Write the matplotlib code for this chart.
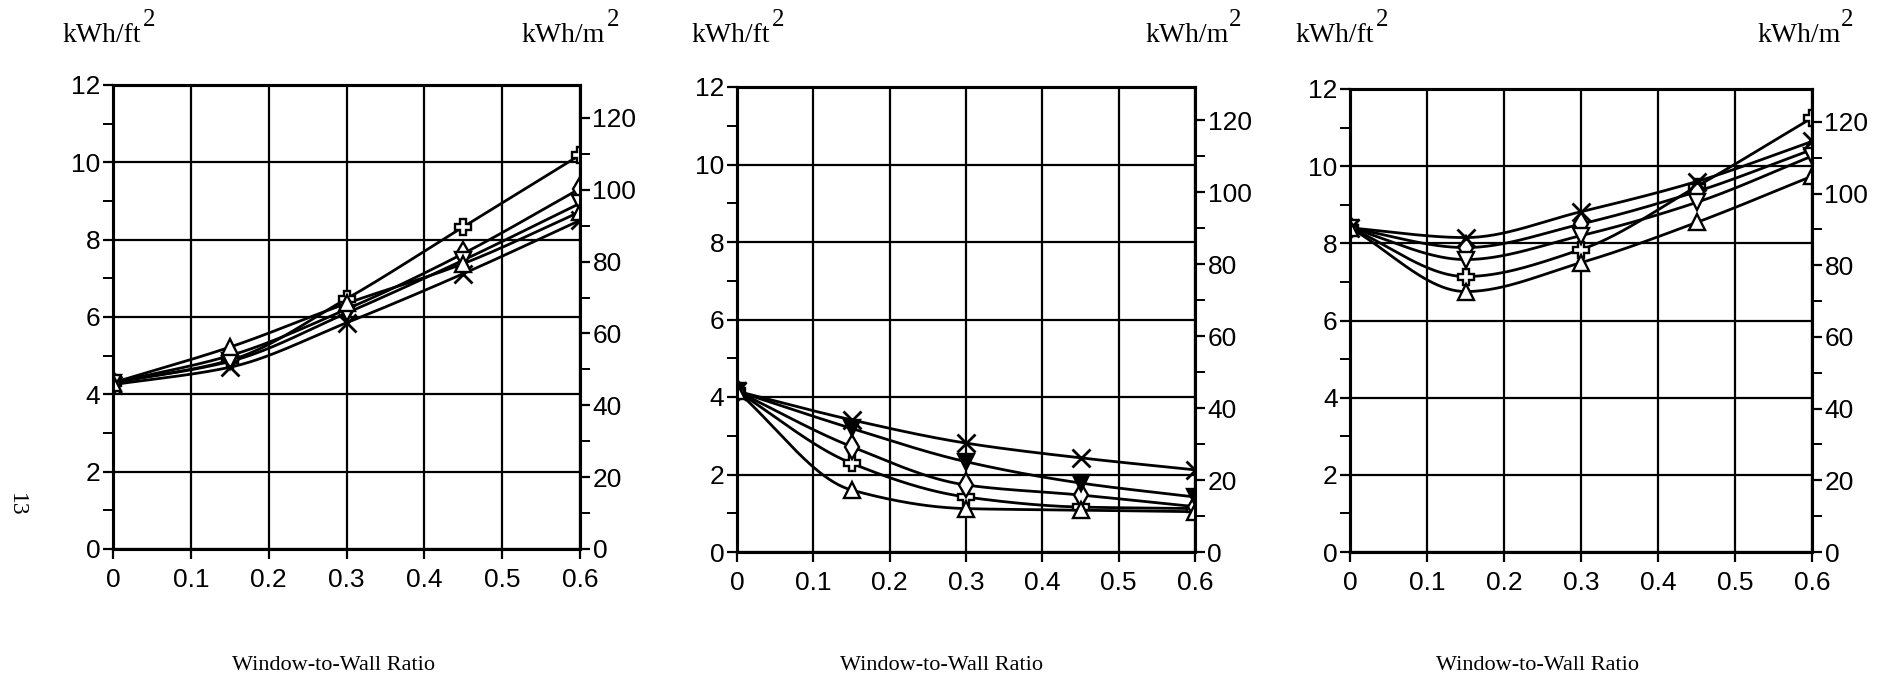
import matplotlib
matplotlib.use('Agg')
import matplotlib.pyplot as plt
import numpy as np
from matplotlib.ticker import MultipleLocator

plt.rcParams['font.family'] = ['Liberation Sans', 'DejaVu Sans']

FT2_TO_M2 = 10.764
SERIF = ['Liberation Serif', 'DejaVu Serif']

wwr = [0, 0.15, 0.3, 0.45, 0.6]
x_ticks = [0, 0.1, 0.2, 0.3, 0.4, 0.5, 0.6]
x_labels = ['0', '0.1', '0.2', '0.3', '0.4', '0.5', '0.6']
y_ticks = [0, 2, 4, 6, 8, 10, 12]
y2_ticks = [0, 20, 40, 60, 80, 100, 120]

# kWh/ft2 per window-to-wall ratio, one list per curve
left_plus = [4.3, 4.88, 6.47, 8.33, 10.19]
left_diamond = [4.3, 5.0, 6.2, 7.64, 9.32]
left_vtri = [4.3, 4.85, 6.1, 7.47, 8.94]
left_x = [4.25, 4.7, 5.85, 7.12, 8.5]
left_tri = [4.3, 5.22, 6.35, 7.38, 8.72]

mid_plus = [4.15, 2.29, 1.42, 1.16, 1.12]
mid_diamond = [4.15, 2.72, 1.73, 1.47, 1.17]
mid_vtri = [4.15, 3.19, 2.33, 1.78, 1.42]
mid_x = [4.15, 3.41, 2.81, 2.43, 2.12]
mid_tri = [4.15, 1.6, 1.12, 1.08, 1.04]

right_plus = [8.4, 7.14, 7.84, 9.47, 11.25]
right_diamond = [8.4, 7.89, 8.5, 9.34, 10.43]
right_vtri = [8.4, 7.58, 8.2, 9.06, 10.26]
right_x = [8.4, 8.15, 8.82, 9.6, 10.64]
right_tri = [8.4, 6.75, 7.5, 8.54, 9.74]

panels = [
    [left_plus, left_diamond, left_vtri, left_x, left_tri],
    [mid_plus, mid_diamond, mid_vtri, mid_x, mid_tri],
    [right_plus, right_diamond, right_vtri, right_x, right_tri],
]
vtri_face = ['white', 'black', 'white']


def pchip(x, y, xs):
    # monotone cubic hermite curve through the points
    x = np.asarray(x, float)
    y = np.asarray(y, float)
    h = np.diff(x)
    d = np.diff(y) / h
    m = np.zeros_like(y)
    for k in range(1, len(x) - 1):
        if d[k - 1] * d[k] > 0:
            w1 = 2 * h[k] + h[k - 1]
            w2 = h[k] + 2 * h[k - 1]
            m[k] = (w1 + w2) / (w1 / d[k - 1] + w2 / d[k])
    m[0] = d[0]
    m[-1] = d[-1]
    idx = np.clip(np.searchsorted(x, xs) - 1, 0, len(x) - 2)
    t = (xs - x[idx]) / h[idx]
    h00 = 2 * t**3 - 3 * t**2 + 1
    h10 = t**3 - 2 * t**2 + t
    h01 = -2 * t**3 + 3 * t**2
    h11 = t**3 - t**2
    return h00 * y[idx] + h10 * h[idx] * m[idx] + h01 * y[idx + 1] + h11 * h[idx] * m[idx + 1]


W, H = 1903, 676
fig = plt.figure(figsize=(W / 100, H / 100), dpi=100)

# axes boxes in pixels: left, right, top, bottom
boxes = [(113, 580, 85, 549), (737, 1195, 87, 552), (1350, 1812, 89, 552)]

xs = np.linspace(0, 0.6, 200)

for i, (l, r, t, b) in enumerate(boxes):
    ax = fig.add_axes([l / W, 1 - b / H, (r - l) / W, (b - t) / H])
    plus, diamond, vtri, xser, tri = panels[i]
    styles = [
        (plus, dict(marker='P', ms=12, mfc='white')),
        (diamond, dict(marker='d', ms=12, mfc='white')),
        (vtri, dict(marker='v', ms=11, mfc=vtri_face[i])),
        (xser, dict(marker='x', ms=13, mew=2)),
        (tri, dict(marker='^', ms=11, mfc='white')),
    ]
    for vals, st in styles:
        ax.plot(xs, pchip(wwr, vals, xs), color='black', lw=2, zorder=3)
        ax.plot(wwr, vals, ls='none', color='black', mec='black', mew=st.pop('mew', 1.7), zorder=4, **st)

    ax.set_xlim(0, 0.6)
    ax.set_ylim(0, 12)
    ax.set_xticks(x_ticks)
    ax.set_xticklabels(x_labels)
    ax.set_yticks(y_ticks)
    ax.yaxis.set_minor_locator(MultipleLocator(1))
    ax.grid(True, color='black', lw=1.6)
    ax.set_axisbelow(True)
    for s in ax.spines.values():
        s.set_linewidth(2.2)
    ax.tick_params(axis='both', which='major', direction='out', length=7, width=1.6,
                   labelsize=19, pad=2)
    ax.tick_params(axis='x', which='major', pad=7)
    ax.tick_params(axis='y', which='minor', direction='out', length=7, width=1.4)

    ax2 = ax.twinx()
    ax2.set_ylim(0, 12 * FT2_TO_M2)
    ax2.set_yticks(y2_ticks)
    ax2.yaxis.set_minor_locator(MultipleLocator(10))
    ax2.tick_params(axis='y', which='major', direction='out', length=7, width=1.6,
                    labelsize=19, pad=2)
    ax2.tick_params(axis='y', which='minor', direction='out', length=7, width=1.4)
    for s in ax2.spines.values():
        s.set_linewidth(2.2)

# unit labels above each panel, with a raised "2"
renderer = fig.canvas.get_renderer()
ft_x = [63, 692, 1296]
m_x = [522, 1145, 1757]
for fx, mx in zip(ft_x, m_x):
    for px, unit in [(fx, 'kWh/ft'), (mx, 'kWh/m')]:
        txt = fig.text(px / W, 1 - 42 / H, unit, fontsize=20, family=SERIF,
                       ha='left', va='baseline')
        ext = txt.get_window_extent(renderer)
        fig.text((ext.x1 + 1) / W, 1 - 26 / H, '2', fontsize=18, family=SERIF,
                 ha='left', va='baseline')

title_x = [333, 942, 1537]
for tx in title_x:
    fig.text(tx / W, 1 - 665 / H, 'Window-to-Wall Ratio', fontsize=16,
             family=SERIF, ha='center', va='center')

fig.text(16 / W, 1 - 505 / H, '13', fontsize=17, rotation=-90,
         family=SERIF, ha='center', va='center')

fig.savefig('out.png', dpi=100)
